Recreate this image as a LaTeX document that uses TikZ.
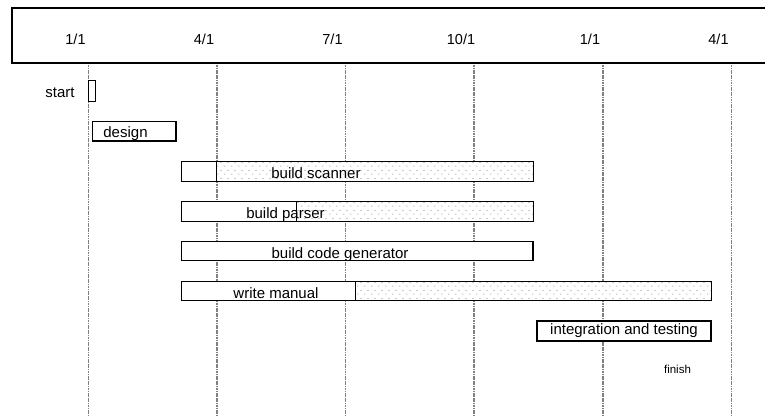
\documentclass[tikz,border=0pt]{standalone}
\usepackage{fontspec}
\setmainfont{Liberation Sans}
\usepackage{tikz}
\usetikzlibrary{patterns.meta}
\tikzdeclarepattern{
  name=sparse dots, type=uncolored,
  bounding box={(0pt,0pt) and (7pt,8pt)},
  tile size={(7pt,8pt)},
  code={
    \fill (1pt,1pt) circle (0.5pt);
    \fill (4.5pt,5pt) circle (0.5pt);
  }
}
\tikzset{
  hdr/.style={draw, line width=2.6pt},
  gridline/.style={draw=black!50, line width=1.3pt, dash pattern=on 1.2pt off 0.5pt},
  bar/.style={draw, line width=0.8pt, fill=white},
  crit/.style={draw, line width=1.8pt, fill=white},
  done/.style={pattern=sparse dots, pattern color=black!70},
  lbl/.style={font=\fontsize{15}{18}\selectfont, anchor=base, inner sep=0pt},
  hlbl/.style={font=\fontsize{14.5}{17}\selectfont, anchor=base, inner sep=0pt},
  small/.style={font=\fontsize{11.5}{14}\selectfont, anchor=base, inner sep=0pt},
}
\begin{document}
\begin{tikzpicture}[x=1pt, y=-1pt]
  \useasboundingbox (0,0) rectangle (765,415);
  \clip (0,0) rectangle (765,415);
  % header with month ticks
  \draw[hdr] (12,8) rectangle (800,63);
  \foreach \x/\m/\d [count=\i] in {88.5/1/1, 217/4/1, 345.5/7/1, 474/10/1, 603/1/1, 731.5/4/1} {
    \draw[gridline] (\x,64.5) -- (\x,415);
    \node[hlbl] (hd\i) at (\x-13,44) {\m/\d};
  }
  % bars
  \draw[bar] (88,80) rectangle (95,101.5);
  \draw[bar, line width=1.4pt] (92.5,121.5) rectangle (176,141);
  \draw[bar] (181.5,161) rectangle (533,181);
  \fill[done] (216,161) rectangle (533,181);
  \draw[bar, fill=none] (181.5,161) rectangle (533,181) (216,161) -- (216,181);
  \draw[bar] (181.5,201) rectangle (533,221);
  \fill[done] (296,201) rectangle (533,221);
  \draw[bar, fill=none] (181.5,201) rectangle (533,221) (296,201) -- (296,221);
  \draw[crit] (181.5,241.5) rectangle (533,260.5);
  \draw[bar] (181.5,281.5) rectangle (711,300.5);
  \fill[done] (355,281.5) rectangle (711,300.5);
  \draw[bar, fill=none] (181.5,281.5) rectangle (711,300.5) (355,281.5) -- (355,300.5);
  \draw[crit] (537,321) rectangle (711,341);
  % labels
  \node[lbl] (start) at (60,97) {start};
  \node[lbl] (design) at (125.5,137.5) {design};
  \node[lbl] (scanner) at (316,178) {build scanner};
  \node[lbl] (parser) at (285.5,218) {build parser};
  \node[lbl] (codegen) at (340,258) {build code generator};
  \node[lbl] (manual) at (276,298) {write manual};
  \node[lbl] (testing) at (624,334.5) {integration and testing};
  \node[small] (finish) at (677.5,373) {finish};
\end{tikzpicture}
\end{document}
